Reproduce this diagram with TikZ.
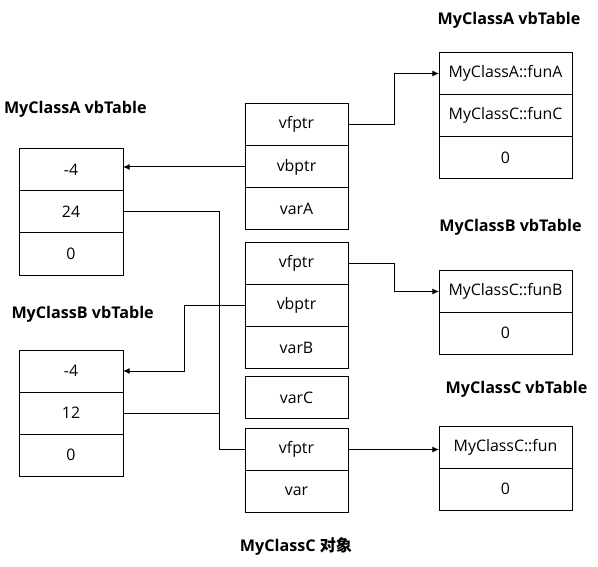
\documentclass[tikz,border=0pt]{standalone}
\usepackage{fontspec}
\setmainfont{Open Sans}
\newfontfamily\cjk{Noto Sans CJK SC}
\usetikzlibrary{arrows.meta}
\begin{document}
\begin{tikzpicture}[x=0.75pt,y=-0.75pt,
  every node/.style={inner sep=0pt,outer sep=0pt},
  cell/.style={draw,line width=0.75pt,minimum height=31.5pt,font=\fontsize{11.9pt}{14pt}\selectfont},
  lcell/.style={cell,minimum width=78pt},
  mcell/.style={cell,minimum width=77.25pt},
  rcell/.style={cell,minimum width=99.75pt},
  ttl/.style={font=\fontsize{12.1pt}{14pt}\selectfont\bfseries},
  wire/.style={line width=0.75pt},
  arr/.style={wire,-{Latex[length=5pt,width=4.5pt]}}]
\useasboundingbox[fill=white] (0,0) rectangle (598,566);
% left vbTables
\node[ttl,anchor=west] (tla) at (4,109) {MyClassA vbTable};
\node[lcell] (la1) at (71,170) {-4};
\node[lcell] (la2) at (71,212) {24};
\node[lcell] (la3) at (71,254) {0};
\node[ttl,anchor=west] (tlb) at (11.5,314) {MyClassB vbTable};
\node[lcell] (lb1) at (71,371) {-4};
\node[lcell] (lb2) at (71,413) {12};
\node[lcell] (lb3) at (71,455) {0};
% object
\node[mcell] (g1vf) at (296.5,124.5) {vfptr};
\node[mcell] (g1vb) at (296.5,167) {vbptr};
\node[mcell] (g1va) at (296.5,208.5) {varA};
\node[mcell] (g2vf) at (296.5,263) {vfptr};
\node[mcell] (g2vb) at (296.5,305.5) {vbptr};
\node[mcell] (g2vb2) at (296.5,347.5) {varB};
\node[mcell] (gvc) at (296.5,397.5) {varC};
\node[mcell] (g3vf) at (296.5,449.5) {vfptr};
\node[mcell] (g3v) at (296.5,491.5) {var};
\node[ttl] (tobj) at (296,546) {MyClassC {\cjk\bfseries 对象}};
% right vfTables
\node[ttl] (tra) at (509,20) {MyClassA vbTable};
\node[rcell] (ra1) at (505.5,73.5) {MyClassA::funA};
\node[rcell] (ra2) at (505.5,115.5) {MyClassC::funC};
\node[rcell] (ra3) at (505.5,157.5) {0};
\node[ttl] (trb) at (510.5,227) {MyClassB vbTable};
\node[rcell] (rb1) at (505.5,291.5) {MyClassC::funB};
\node[rcell] (rb2) at (505.5,333) {0};
\node[ttl] (trc) at (516.5,389) {MyClassC vbTable};
\node[rcell] (rc1) at (505.5,447.5) {MyClassC::fun};
\node[rcell] (rc2) at (505.5,489) {0};
% connectors
\draw[arr] (g1vb.west) -- (g1vb.west -| la1.east);
\draw[arr] (g2vb.west) -- ++(-61,0) |- (lb1.east);
\draw[wire] (la2.east) -- ++(96,0) |- (g3vf.west);
\draw[wire] (lb2.east) -- ++(96,0);
\draw[arr] (g1vf.east) -- ++(46,0) |- (ra1.west);
\draw[arr] (g2vf.east) -- ++(46,0) |- (rb1.west);
\draw[arr] (g3vf.east) -- (g3vf.east -| rc1.west);
\end{tikzpicture}
\end{document}
